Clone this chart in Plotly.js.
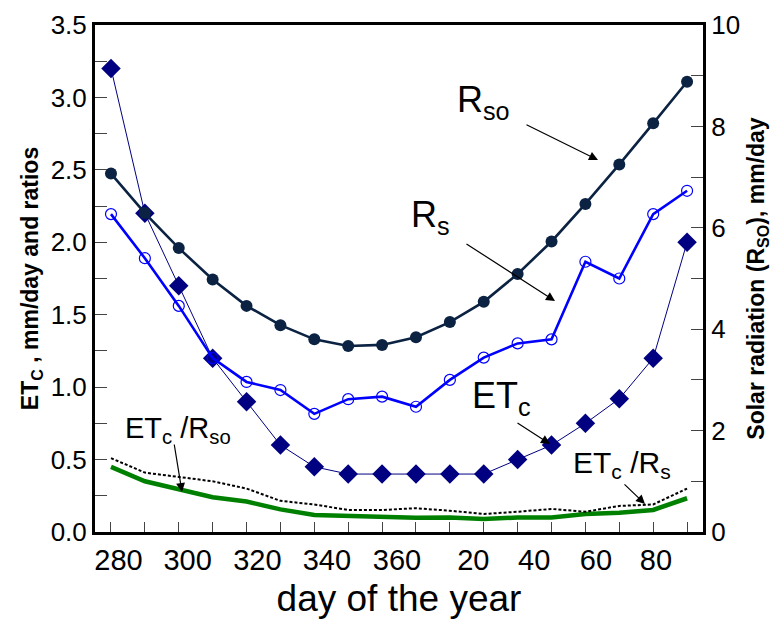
<!DOCTYPE html>
<html>
<head>
<meta charset="utf-8">
<script src="https://cdn.plot.ly/plotly-3.0.1.min.js"></script>
<style>html,body{margin:0;padding:0;background:#fff;}#chart{width:778px;height:619px;}</style>
</head>
<body>
<div id="chart"></div>
<script>
// ---- data ----
const days   = [280,290,300,310,320,330,340,350,360,370,380,390,400,410,420,430,440,450];
const rso    = [7.07,6.29,5.60,4.98,4.46,4.08,3.80,3.67,3.69,3.84,4.14,4.54,5.09,5.73,6.47,7.25,8.06,8.88];
const rs     = [6.27,5.40,4.46,3.43,2.96,2.80,2.33,2.62,2.67,2.47,3.00,3.44,3.72,3.80,5.33,5.00,6.27,6.73];
const etc    = [3.20,2.20,1.70,1.20,0.90,0.60,0.45,0.40,0.40,0.40,0.40,0.40,0.50,0.60,0.75,0.92,1.20,2.00];
const etcRs  = [0.51,0.41,0.38,0.35,0.30,0.215,0.19,0.152,0.152,0.164,0.147,0.124,0.14,0.159,0.14,0.18,0.19,0.30];
const etcRso = [0.45,0.35,0.295,0.24,0.21,0.156,0.117,0.11,0.106,0.099,0.10,0.09,0.10,0.10,0.124,0.133,0.152,0.233];
const tickDays   = [280,290,300,310,320,330,340,350,360,370,380,390,400,410,420,430,440,450];
const labelDays  = [282.2,302.6,323.2,343.7,364.4,386.9,404.9,423.1,440.8];
const labelTexts = ['280','300','320','340','360','20','40','60','80'];

// ---- geometry helpers for annotation placement ----
const W = 778, H = 619;
const M = {l: 95, r: 75, t: 25, b: 87};
const XR = [275.28, 454.7], YR = [0, 3.5], Y2R = [0, 10];
const pw = W - M.l - M.r, ph = H - M.t - M.b;
const px2x = p => XR[0] + (p - M.l) / pw * (XR[1] - XR[0]);
const py2y = p => YR[0] + (H - M.b - p) / ph * (YR[1] - YR[0]);

const FONT = 'Arial, "Liberation Sans", sans-serif';

const traces = [
  {x: days, y: etcRso, mode: 'lines', name: 'ETc/Rso',
   line: {color: '#008000', width: 4.5}},
  {x: days, y: etcRs, mode: 'lines', name: 'ETc/Rs',
   line: {color: '#000000', width: 2, dash: '3px,2px'}},
  {x: days, y: rs, yaxis: 'y2', mode: 'lines+markers', name: 'Rs',
   line: {color: '#0000ff', width: 2.6},
   marker: {symbol: 'circle-open', size: 11, color: '#0000ff', line: {width: 1.2, color: '#0000ff'}}},
  {x: days, y: rso, yaxis: 'y2', mode: 'lines+markers', name: 'Rso',
   line: {color: '#0b2242', width: 2.6},
   marker: {symbol: 'circle', size: 12, color: '#0b2242'}},
  {x: days, y: etc, mode: 'lines+markers', name: 'ETc',
   line: {color: '#000080', width: 1},
   marker: {symbol: 'diamond', size: 15, color: '#000080'}}
];

function label(text, leftPx, topPx, size) {
  return {xref: 'x', yref: 'y', x: px2x(leftPx), y: py2y(topPx), xanchor: 'left', yanchor: 'top',
          text: text, showarrow: false, font: {family: FONT, size: size, color: '#000'}};
}
function arrow(tx, ty, hx, hy) {
  return {xref: 'x', yref: 'y', axref: 'x', ayref: 'y', x: px2x(hx), y: py2y(hy), ax: px2x(tx), ay: py2y(ty),
          text: '', showarrow: true, arrowhead: 2, arrowsize: 1.5, arrowwidth: 1.2, arrowcolor: '#000'};
}

const layout = {
  width: W, height: H, margin: M, showlegend: false,
  paper_bgcolor: '#fff', plot_bgcolor: '#fff',
  font: {family: FONT, color: '#000'},
  xaxis: {range: XR, tickmode: 'array', tickvals: labelDays, ticktext: labelTexts, ticks: '',
          minor: {tickmode: 'array', tickvals: tickDays, ticks: 'inside', ticklen: 10, tickwidth: 1,
                  tickcolor: '#444', showgrid: false},
          showline: true, linewidth: 3, linecolor: '#000', mirror: true, showgrid: false, zeroline: false,
          tickfont: {family: FONT, size: 29, color: '#000'},
          title: {text: 'day of the year', font: {family: FONT, size: 37, color: '#000'}, standoff: 12}},
  yaxis: {range: YR, tickmode: 'linear', tick0: 0, dtick: 0.5, tickformat: '.1f',
          ticks: 'inside', ticklen: 12, tickwidth: 1, tickcolor: '#444',
          minor: {dtick: 0.25, ticks: 'inside', ticklen: 12, tickwidth: 1, tickcolor: '#444', showgrid: false},
          showline: true, linewidth: 3, linecolor: '#000', showgrid: false, zeroline: false,
          tickfont: {family: FONT, size: 26, color: '#000'},
          title: {text: 'ET<sub>C</sub> , mm/day and ratios', standoff: 6,
                  font: {family: FONT, size: 23, color: '#000', weight: 700}}},
  yaxis2: {range: Y2R, overlaying: 'y', side: 'right', tickmode: 'linear', tick0: 0, dtick: 2,
           ticks: 'inside', ticklen: 12, tickwidth: 1, tickcolor: '#444',
           minor: {dtick: 1, ticks: 'inside', ticklen: 12, tickwidth: 1, tickcolor: '#444', showgrid: false},
           showline: true, linewidth: 3, linecolor: '#000', showgrid: false, zeroline: false,
           tickfont: {family: FONT, size: 26, color: '#000'},
           title: {text: 'Solar radiation (R<sub>SO</sub>), mm/day', standoff: 9,
                   font: {family: FONT, size: 23, color: '#000', weight: 700}}},
  annotations: [
    label('R<sub>so</sub>', 455, 77, 36),
    label('R<sub>s</sub>', 409, 192, 36),
    label('ET<sub>c</sub>', 470, 373, 36),
    label('ET<sub>c</sub> /R<sub>s</sub>', 571, 444, 30),
    label('ET<sub>c</sub> /R<sub>so</sub>', 123, 410, 29),
    arrow(525, 124, 598, 160),
    arrow(465, 243, 555, 301),
    arrow(516, 422, 550, 444),
    arrow(623, 483, 645, 504),
    arrow(174, 443, 182, 492)
  ]
};

Plotly.newPlot('chart', traces, layout, {staticPlot: true, displayModeBar: false});
</script>
</body>
</html>
